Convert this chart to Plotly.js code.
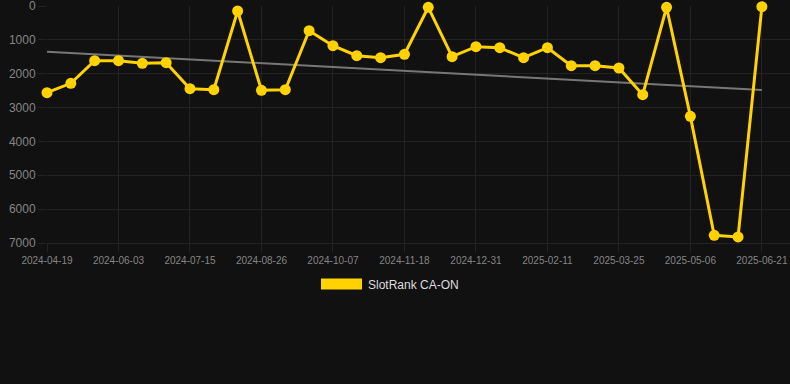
<!DOCTYPE html>
<html>
<head>
<meta charset="utf-8">
<script src="https://cdn.plot.ly/plotly-3.0.1.min.js"></script>
<style>
  html, body { margin: 0; padding: 0; background: #111111; }
  #chart { width: 790px; height: 384px; }
</style>
</head>
<body>
<div id="chart"></div>
<script>
// Data
const dates = [
  "2024-04-19","2024-05-04","2024-05-19","2024-06-03","2024-06-17","2024-07-01",
  "2024-07-15","2024-07-29","2024-08-12","2024-08-26","2024-09-09","2024-09-23",
  "2024-10-07","2024-10-21","2024-11-04","2024-11-18","2024-12-02","2024-12-16",
  "2024-12-31","2025-01-14","2025-01-28","2025-02-11","2025-02-25","2025-03-11",
  "2025-03-25","2025-04-08","2025-04-22","2025-05-06","2025-05-21","2025-06-05",
  "2025-06-21"
];
const ranks = [
  2560, 2283, 1615, 1615, 1692, 1675,
  2442, 2472, 148, 2490, 2472, 729,
  1172, 1468, 1527, 1426, 38, 1497,
  1202, 1232, 1527, 1232, 1763, 1763,
  1831, 2620, 38, 3258, 6772, 6822,
  20
];
const tickLabels = [
  "2024-04-19","2024-06-03","2024-07-15","2024-08-26","2024-10-07","2024-11-18",
  "2024-12-31","2025-02-11","2025-03-25","2025-05-06","2025-06-21"
];
const trendDates = ["2024-04-19", "2025-06-21"];
const trendValues = [1350, 2480];
const seriesName = "SlotRank CA-ON";
const yTicks = [0, 1000, 2000, 3000, 4000, 5000, 6000, 7000];

const gold = "#FFD200";
const gridColor = "#232323";
const tickFontColor = "#858585";

const traces = [
  {
    x: trendDates,
    y: trendValues,
    type: "scatter",
    mode: "lines",
    line: { color: "#777777", width: 2 },
    hoverinfo: "skip",
    showlegend: false
  },
  {
    x: dates,
    y: ranks,
    type: "scatter",
    mode: "lines+markers",
    name: seriesName,
    line: { color: gold, width: 3 },
    marker: { color: gold, size: 11 },
    cliponaxis: false,
    showlegend: false
  }
];

const layout = {
  width: 790,
  height: 384,
  paper_bgcolor: "#111111",
  plot_bgcolor: "#111111",
  margin: { l: 47, r: 0, t: 6, b: 141 },
  font: { family: "Liberation Sans, Arial, sans-serif", color: tickFontColor },
  showlegend: false,
  xaxis: {
    type: "category",
    categoryorder: "array",
    categoryarray: dates,
    range: [0, 31.18],
    tickmode: "array",
    tickvals: tickLabels,
    ticktext: tickLabels,
    tickangle: 0,
    tickfont: { size: 10, color: tickFontColor },
    showgrid: true,
    gridcolor: gridColor,
    gridwidth: 1,
    ticks: "outside",
    ticklen: 8,
    tickcolor: gridColor,
    showline: true,
    linecolor: gridColor,
    zeroline: false,
    ticklabeloverflow: "allow"
  },
  yaxis: {
    range: [7000, 0],
    tickmode: "array",
    tickvals: yTicks,
    ticktext: yTicks.map(String),
    tickfont: { size: 12, color: tickFontColor },
    showgrid: true,
    gridcolor: gridColor,
    gridwidth: 1,
    ticks: "outside",
    ticklen: 8,
    tickcolor: gridColor,
    zeroline: false,
    showline: false,
    ticklabeloverflow: "allow"
  },
  shapes: [
    {
      type: "rect",
      xref: "paper", yref: "paper",
      x0: (321 - 47) / 743, x1: (362 - 47) / 743,
      y0: (237 - (278.5 - 6)) / 237, y1: (237 - (289.5 - 6)) / 237,
      fillcolor: gold,
      line: { width: 0 }
    }
  ],
  annotations: [
    {
      xref: "paper", yref: "paper",
      x: (366 - 47) / 743,
      y: (237 - (284.5 - 6)) / 237,
      xanchor: "left", yanchor: "middle",
      text: seriesName,
      showarrow: false,
      font: { size: 12, color: "#dddddd", family: "Liberation Sans, Arial, sans-serif" }
    }
  ]
};

Plotly.newPlot("chart", traces, layout, { displayModeBar: false, staticPlot: true });
</script>
</body>
</html>
